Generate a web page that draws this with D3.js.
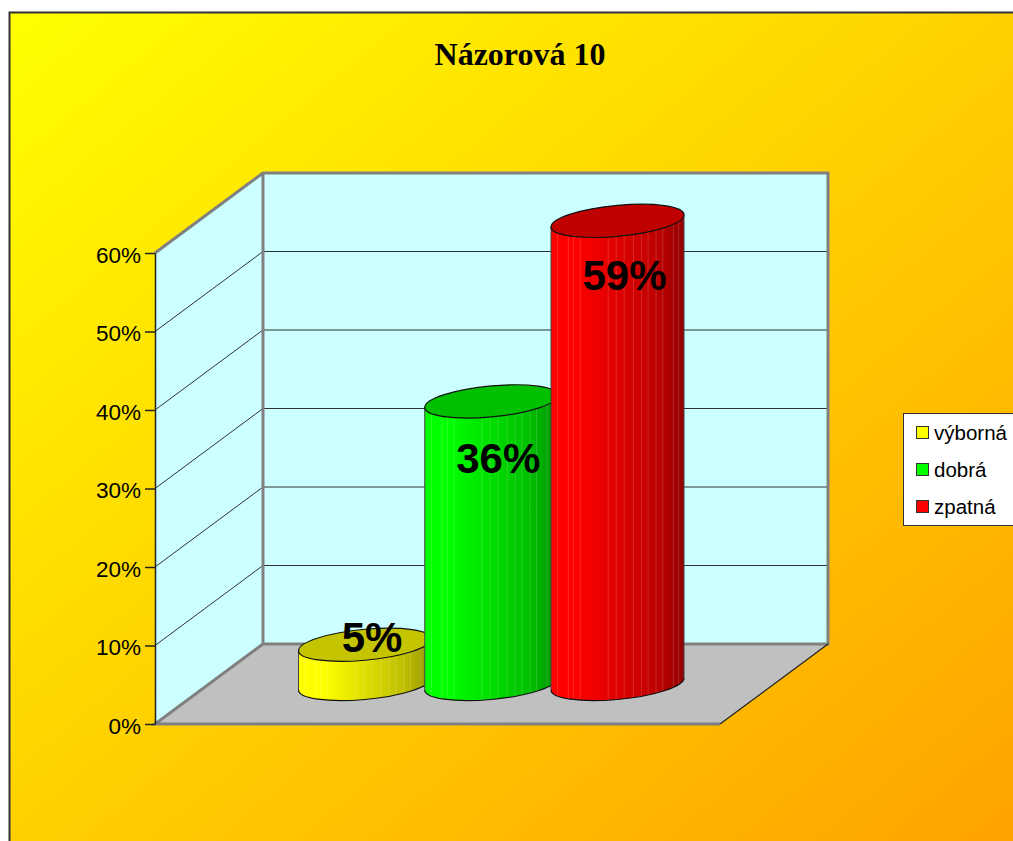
<!DOCTYPE html>
<html>
<head>
<meta charset="utf-8">
<title>Názorová 10</title>
<script src="https://cdn.jsdelivr.net/npm/d3@7"></script>
<style>
  html, body { margin: 0; padding: 0; background: #fff; overflow: hidden; }
  svg { display: block; }
  text { font-family: "Liberation Sans", Arial, sans-serif; fill: #000; }
</style>
</head>
<body>
<div id="chart"></div>
<script>
const title = "Názorová 10";
const categories = ["výborná", "dobrá", "zpatná"];
const values = [5, 36, 59];
const colors = ["#ffff00", "#00ff00", "#ff0000"];
const topColors = ["#c4c400", "#00c000", "#c00000"];
const yTicks = [0, 10, 20, 30, 40, 50, 60];
// light facet seams on the cylinders, as a share of the width
const seams = [.05, .13, .17, .22, .43, .49, .55, .62, .68, .73, .79, .84, .92, .96];

const width = 1013;
const height = 841;

const svg = d3.select("#chart").append("svg")
  .attr("width", width)
  .attr("height", height);

const defs = svg.append("defs");

const bg = defs.append("linearGradient")
  .attr("id", "bg")
  .attr("x1", 0).attr("y1", 0).attr("x2", 1).attr("y2", 1);
bg.append("stop").attr("offset", 0).attr("stop-color", "#ffff00");
bg.append("stop").attr("offset", 1).attr("stop-color", "#ffa200");

// chart area runs off the right and bottom of the window
svg.append("rect")
  .attr("x", 9).attr("y", 12)
  .attr("width", width - 9).attr("height", height - 12)
  .attr("fill", "url(#bg)");
svg.append("path")
  .attr("d", `M9.5,${height}V12.5H${width}`)
  .attr("fill", "none")
  .attr("stroke", "#333")
  .attr("stroke-width", 2);

svg.append("text")
  .attr("x", 520).attr("y", 65)
  .attr("text-anchor", "middle")
  .style("font-family", '"Liberation Serif", "Times New Roman", serif')
  .style("font-weight", "bold")
  .style("font-size", "32px")
  .text(title);

// 3d box
const y = d3.scaleLinear().domain([0, 60]).range([724, 253]);
const left = 155;
const floorWidth = 565;
const depthX = 108;
const depthY = -80;
const wallColor = "#ccffff";
const edgeColor = "#808080";

const x0 = left + depthX;
const x1 = left + depthX + floorWidth;
const bottom = y(0);
const topY = y(60);

// back wall
svg.append("rect")
  .attr("x", x0).attr("y", topY + depthY)
  .attr("width", floorWidth).attr("height", bottom - topY)
  .attr("fill", wallColor);
// left wall
svg.append("path")
  .attr("d", `M${left},${bottom}L${x0},${bottom + depthY}V${topY + depthY}L${left},${topY}Z`)
  .attr("fill", wallColor);
// floor
svg.append("path")
  .attr("d", `M${left},${bottom}H${left + floorWidth}L${x1},${bottom + depthY}H${x0}Z`)
  .attr("fill", "#c0c0c0");

// gridlines
svg.append("g")
  .selectAll("path")
  .data(yTicks.slice(1, -1))
  .join("path")
  .attr("d", d => `M${left},${y(d)}L${x0},${y(d) + depthY}H${x1}`)
  .attr("fill", "none")
  .attr("stroke", "#333")
  .attr("stroke-width", 1);

// box edges
svg.append("path")
  .attr("d", `M${left},${topY}L${x0},${topY + depthY}H${x1}V${bottom + depthY}H${x0}V${topY + depthY}` +
    `M${x0},${bottom + depthY}L${left},${bottom}H${left + floorWidth}`)
  .attr("fill", "none")
  .attr("stroke", edgeColor)
  .attr("stroke-width", 3);
svg.append("path")
  .attr("d", `M${left + floorWidth},${bottom}L${x1},${bottom + depthY}`)
  .attr("stroke", "#222")
  .attr("stroke-width", 1.2);

// value axis
const axis = d3.axisLeft(y)
  .tickValues(yTicks)
  .tickFormat(d => d + "%")
  .tickSize(10)
  .tickSizeOuter(0)
  .tickPadding(4);
const axisG = svg.append("g")
  .attr("transform", `translate(${left},0)`)
  .call(axis);
axisG.select(".domain").attr("stroke", "#222").attr("stroke-width", 1.5);
axisG.selectAll(".tick line").attr("stroke", "#222").attr("stroke-width", 1.5);
axisG.selectAll(".tick text")
  .attr("dy", "0.4em")
  .style("font-family", '"Liberation Sans", Arial, sans-serif')
  .style("font-size", "22.5px");

// cylinders
const cx = d3.scalePoint().domain(categories).range([365, 617.5]);
const rx = 66.5;
const ry = 15.5;
const tilt = 6 / rx; // ellipses lean up to the right
const baseY = 684;

const shade = (color, k) => {
  const c = d3.rgb(color);
  return d3.rgb(c.r * k, c.g * k, c.b * k).formatHex();
};

categories.forEach((cat, i) => {
  const h = y(0) - y(values[i]);
  const id = "side" + i;
  const grad = defs.append("linearGradient").attr("id", id);
  [[0, 1], [.18, 1], [.5, .87], [.8, .74], [1, .58]].forEach(s => {
    grad.append("stop").attr("offset", s[0]).attr("stop-color", shade(colors[i], s[1]));
  });

  const g = svg.append("g")
    .attr("transform", `matrix(1,${-tilt},0,1,${cx(cat)},${baseY})`);

  g.append("path")
    .attr("d", `M${-rx},${-h}V0A${rx},${ry} 0 0 0 ${rx},0V${-h}Z`)
    .attr("fill", `url(#${id})`);

  g.selectAll("line")
    .data(seams)
    .join("line")
    .attr("x1", d => -rx + d * 2 * rx)
    .attr("x2", d => -rx + d * 2 * rx)
    .attr("y1", -h)
    .attr("y2", d => {
      const u = (-rx + d * 2 * rx) / rx;
      return ry * Math.sqrt(1 - u * u);
    })
    .attr("stroke", "#fff")
    .attr("stroke-opacity", 0.16)
    .attr("stroke-width", 1);

  g.append("path")
    .attr("d", `M${-rx},${-h}V0`)
    .attr("stroke", "#444")
    .attr("stroke-width", 1);
  g.append("path")
    .attr("d", `M${rx},${-h}V0`)
    .attr("stroke", "#444")
    .attr("stroke-width", 1);
  g.append("path")
    .attr("d", `M${-rx},0A${rx},${ry} 0 0 0 ${rx},0`)
    .attr("fill", "none")
    .attr("stroke", "#111")
    .attr("stroke-width", 1.2);

  g.append("ellipse")
    .attr("cx", 0).attr("cy", -h)
    .attr("rx", rx).attr("ry", ry)
    .attr("fill", topColors[i])
    .attr("stroke", "#111")
    .attr("stroke-width", 1.2);
});

// data labels go above the cylinders so nothing clips them
const labelDrop = [7, 72, 69];
svg.append("g")
  .selectAll("text")
  .data(categories)
  .join("text")
  .attr("x", d => cx(d) + 7)
  .attr("y", (d, i) => baseY - (y(0) - y(values[i])) + labelDrop[i])
  .attr("text-anchor", "middle")
  .style("font-weight", "bold")
  .style("font-size", "42px")
  .text((d, i) => values[i] + "%");

// legend, cut off by the window on the right
const legend = svg.append("g");
legend.append("rect")
  .attr("x", 903.5).attr("y", 413.5)
  .attr("width", 130).attr("height", 112)
  .attr("fill", "#fff")
  .attr("stroke", "#333")
  .attr("stroke-width", 1);
const legendY = d3.scalePoint().domain(categories).range([433, 507]);
const item = legend.selectAll("g")
  .data(categories)
  .join("g")
  .attr("transform", d => `translate(0,${legendY(d)})`);
item.append("rect")
  .attr("x", 916.5).attr("y", -6.5)
  .attr("width", 12).attr("height", 12)
  .attr("fill", (d, i) => colors[i])
  .attr("stroke", "#333")
  .attr("stroke-width", 1);
item.append("text")
  .attr("x", 934).attr("y", 7)
  .style("font-size", "20.5px")
  .text(d => d);
</script>
</body>
</html>
